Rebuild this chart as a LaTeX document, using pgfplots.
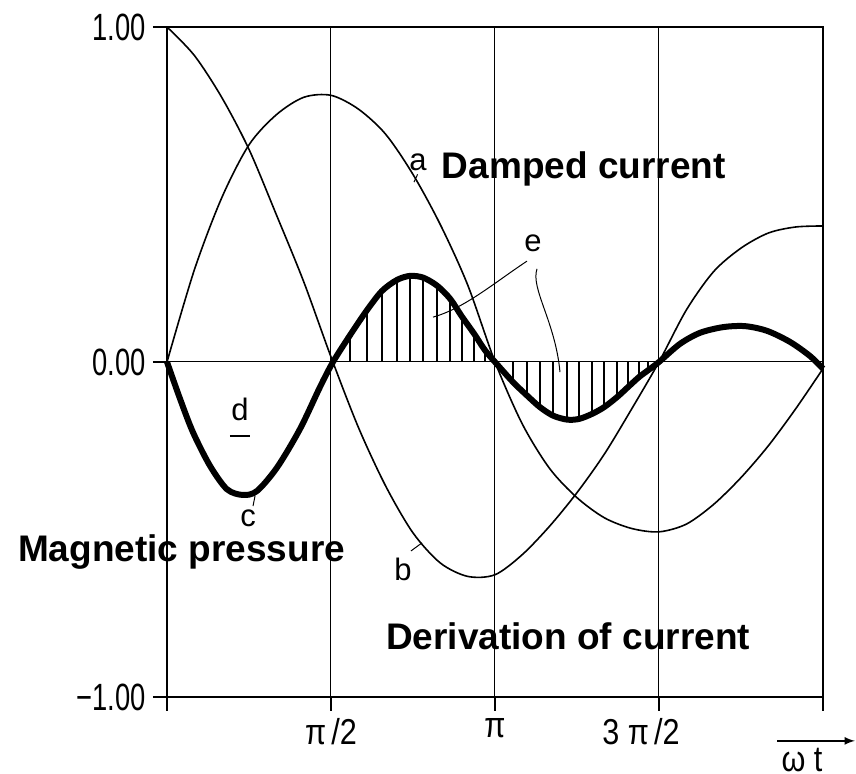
\documentclass[border=0pt]{standalone}
\usepackage{fontspec}
\setmainfont{Liberation Sans}
\usepackage{graphicx}
\usepackage{pgfplots}
\usepackage{pgfplotstable}
\pgfplotsset{compat=1.18}

\newcommand{\tl}[1]{\scalebox{0.72}[1]{\fontsize{19}{22}\selectfont #1}}
\newcommand{\xl}[1]{\scalebox{0.85}[1]{\fontsize{18}{22}\selectfont #1}}
\newcommand{\hl}[1]{{\fontsize{15.5}{18}\selectfont #1}}
\newcommand{\bl}[1]{{\fontsize{18.5}{22}\selectfont\bfseries #1}}

% curve a: damped current
\pgfplotstableread{
t y
0.000 0
0.262 0.275
0.524 0.49
0.785 0.648
1.047 0.738
1.309 0.79
1.571 0.796
1.833 0.755
2.094 0.68
2.356 0.56
2.618 0.41
2.880 0.23
3.142 0.0
3.403 -0.185
3.665 -0.318
3.927 -0.405
4.189 -0.465
4.451 -0.497
4.712 -0.507
4.974 -0.484
5.236 -0.425
5.498 -0.345
5.760 -0.25
6.021 -0.14
6.283 -0.02
}\dataA

% curve b: derivation of current
\pgfplotstableread{
t y
0.000 1.0
0.262 0.915
0.524 0.79
0.785 0.635
1.047 0.44
1.309 0.24
1.571 0.015
1.833 -0.195
2.094 -0.37
2.356 -0.51
2.618 -0.60
2.880 -0.64
3.142 -0.635
3.403 -0.575
3.665 -0.49
3.927 -0.39
4.189 -0.275
4.451 -0.14
4.712 0
4.974 0.155
5.236 0.27
5.498 0.34
5.760 0.385
6.021 0.403
6.283 0.406
}\dataB

% curve c: magnetic pressure
\pgfplotstableread{
t y
0 0
0.125 -0.11
0.249 -0.21
0.412 -0.31
0.575 -0.38
0.728 -0.397
0.862 -0.385
1.054 -0.315
1.274 -0.20
1.465 -0.075
1.59 0
1.753 0.08
1.916 0.155
2.059 0.212
2.203 0.245
2.327 0.257
2.452 0.252
2.586 0.228
2.711 0.189
2.826 0.135
2.940 0.085
3.046 0.035
3.1416 0
3.314 -0.06
3.448 -0.10
3.573 -0.135
3.697 -0.16
3.831 -0.172
3.946 -0.17
4.071 -0.155
4.186 -0.135
4.310 -0.105
4.415 -0.075
4.521 -0.045
4.607 -0.025
4.712 0
4.913 0.054
5.105 0.087
5.325 0.104
5.536 0.107
5.747 0.093
5.967 0.06
6.158 0.018
6.283 -0.02
}\dataC

\begin{document}
\begin{tikzpicture}
\begin{axis}[
  width=328pt, height=335pt, scale only axis,
  xmin=0, xmax=6.2832, ymin=-1, ymax=1,
  axis line style={line width=0.9pt},
  xtick={0,1.5708,3.1416,4.7124,6.2832},
  xticklabels={,\xl{π\,/2},\xl{π},\xl{3 π\,/2}\hspace*{18pt},},
  ytick={-1,0,1},
  yticklabels={\tl{−1.00},\tl{0.00},\tl{1.00}},
  tick pos=left, tick align=outside,
  major tick length=7pt,
  tick style={line width=0.9pt, black},
  grid=major, grid style={line width=0.5pt, black},
  clip=false,
]
% hatching e
\addplot[ycomb, no marks, line width=0.6pt, restrict x to domain=1.6:4.7] table[x=t,y=y] {\dataC};
% curves
\addplot[smooth, no marks, line width=0.8pt] table[x=t,y=y] {\dataA};
\addplot[smooth, no marks, line width=0.8pt] table[x=t,y=y] {\dataB};
\addplot[smooth, no marks, line width=3pt] table[x=t,y=y] {\dataC};

% hand labels
\node at (axis cs:2.404,0.597) {\hl{a}};
\draw[line width=0.5pt] (axis cs:2.40,0.56) -- (axis cs:2.366,0.537);
\node at (axis cs:2.26,-0.618) {\hl{b}};
\draw[line width=0.5pt] (axis cs:2.337,-0.564) -- (axis cs:2.442,-0.540);
\node at (axis cs:0.776,-0.468) {\hl{c}};
\draw[line width=0.5pt] (axis cs:0.843,-0.40) -- (axis cs:0.824,-0.43);
\node at (axis cs:0.699,-0.143) {\hl{d}};
\draw[line width=0.8pt] (axis cs:0.603,-0.221) -- (axis cs:0.795,-0.221);
\node at (axis cs:3.505,0.355) {\hl{e}};
\draw[line width=0.5pt] (axis cs:3.448,0.301) .. controls (axis cs:3.15,0.24) and (axis cs:2.85,0.16) .. (axis cs:2.548,0.134);
\draw[line width=0.5pt] (axis cs:3.544,0.278) .. controls (axis cs:3.48,0.22) and (axis cs:3.72,0.12) .. (axis cs:3.764,-0.03);

% bold annotations
\node[anchor=west] at (axis cs:2.566,0.577) {\bl{Damped current}};
\node[anchor=west] at (axis cs:-1.494,-0.568) {\bl{Magnetic pressure}};
\node[anchor=west] at (axis cs:2.031,-0.818) {\bl{Derivation of current}};

% omega t arrow
\draw[-latex, line width=0.8pt] (axis cs:5.843,-1.131) -- (axis cs:6.589,-1.131);
\node at (axis cs:6.082,-1.188) {\xl{ω t}};
\end{axis}
\pgfresetboundingbox
\path[use as bounding box] (-83.5pt,-38.5pt) rectangle (344.5pt,348.5pt);
\end{tikzpicture}
\end{document}
